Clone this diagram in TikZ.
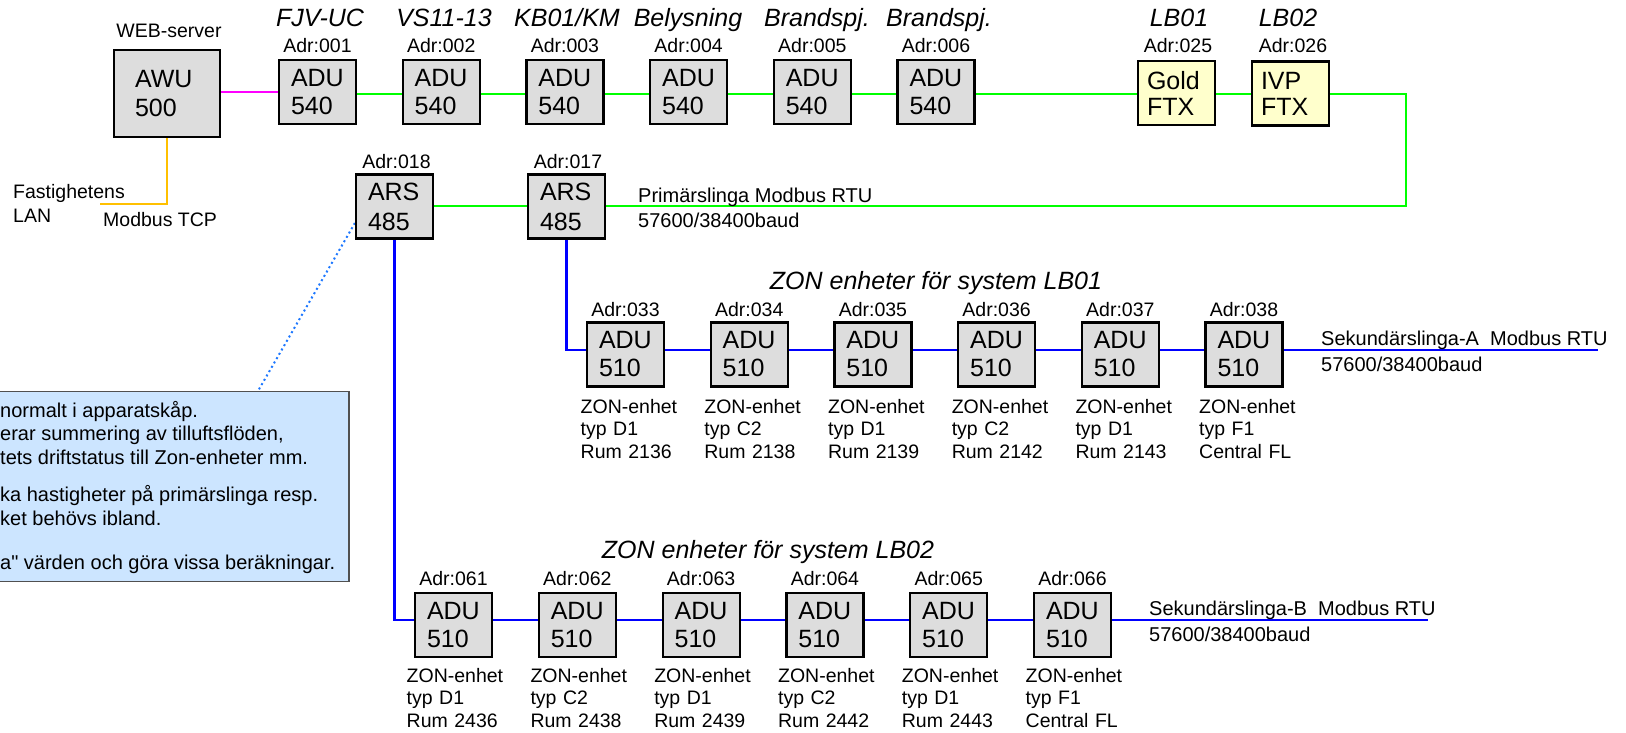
\documentclass[tikz,border=0pt]{standalone}
\usepackage{fontspec}
\setmainfont{Liberation Sans}
\newfontfamily\rawsans{Liberation Sans}
\usetikzlibrary{backgrounds}
\newcommand\myfs[2]{\fontsize{#1pt}{#2pt}\selectfont}
\definecolor{boxgray}{RGB}{221,221,221}
\definecolor{ftxyellow}{RGB}{255,255,204}
\definecolor{notebg}{RGB}{204,229,255}
\definecolor{lgreen}{RGB}{0,255,0}
\definecolor{lmag}{RGB}{255,0,255}
\definecolor{lorange}{RGB}{255,192,0}
\definecolor{lblue}{RGB}{0,0,255}
\definecolor{dotblue}{RGB}{30,120,255}
\definecolor{noteborder}{RGB}{80,80,80}
\begin{document}
\begin{tikzpicture}[x=1pt,y=-1pt,
  dev/.style={draw=black, line width=2.2pt, fill=boxgray, minimum height=64pt,
    text width=53pt, inner xsep=12pt, inner ysep=0pt, align=left, font=\myfs{25}{28}},
  adr/.style={anchor=base, inner sep=0pt, font=\myfs{19.5}{22}},
  ital/.style={anchor=base, inner sep=0pt, font=\myfs{25}{28}\itshape},
  zlab/.style={anchor=base west, align=left, text width=120pt, inner sep=0pt, font=\myfs{19.5}{22.5}},
  loop/.style={anchor=base west, inner sep=0pt, font=\myfs{20}{24}},
  notetxt/.style={anchor=base west, inner sep=0pt, font=\myfs{20}{23}},
  gline/.style={draw=lgreen, line width=2pt},
  bline/.style={draw=lblue, line width=2.5pt},
]
\useasboundingbox (0,0) rectangle (1626,733);

% ---- server ----
\node[dev, minimum height=87pt, text width=64pt, inner xsep=21pt, font=\myfs{25}{29}] (awu) at (167,93.5) {AWU\\500};
\node[adr] (web) at (169,38) {WEB-server};
\node[zlab, font=\myfs{19.5}{24}] (fast) at (13,199) {Fastighetens\\LAN};
\node[loop, font=\myfs{19.5}{24}] (mtcp) at (103,226) {Modbus TCP};

% ---- top row ----
\foreach \i/\ad in {1/001,2/002,3/003,4/004,5/005,6/006}{
  \pgfmathsetmacro\cx{317.5+123.7*(\i-1)}
  \node[dev] (a\i) at (\cx,92) {ADU\\540};
  \node[adr] (aadr\i) at (\cx,52.5) {Adr:\ad};
}
\node[ital] (n1) at (320,27) {FJV-UC};
\node[ital] (n2) at (444,27) {VS11-13};
\node[ital] (n3) at (567,27) {KB01/KM};
\node[ital] (n4) at (688,27) {Belysning};
\node[ital] (n5) at (817,27) {Brandspj.};
\node[ital] (n6) at (939,27) {Brandspj.};

\node[dev, fill=ftxyellow, text width=59pt, inner xsep=9pt, font=\myfs{25}{26}] (gold) at (1176.5,93) {Gold\\FTX};
\node[dev, fill=ftxyellow, text width=59pt, inner xsep=9pt, font=\myfs{25}{26}] (ivp) at (1290.5,93.5) {IVP\\FTX};
\node[adr] (adr25) at (1178,53) {Adr:025};
\node[adr] (adr26) at (1293,53) {Adr:026};
\node[ital] (lb1) at (1179,27) {LB01};
\node[ital] (lb2) at (1288,27) {LB02};

% ---- ARS ----
\node[dev, font=\myfs{25}{30}] (ars18) at (394.5,206.5) {ARS\\485};
\node[dev, font=\myfs{25}{30}] (ars17) at (566.5,206.5) {ARS\\485};
\node[adr] (adr18) at (396.5,168) {Adr:018};
\node[adr] (adr17) at (568,168) {Adr:017};
\node[loop] (prim1) at (638,202) {Primärslinga Modbus RTU};
\node[loop] (prim2) at (638,227) {57600/38400baud};

% ---- row 2 (LB01) ----
\node[ital] (zon1) at (936,289) {ZON enheter för system LB01};
\foreach \i/\ad/\typ/\rum in {1/033/D1/Rum 2136,2/034/C2/Rum 2138,3/035/D1/Rum 2139,4/036/C2/Rum 2142,5/037/D1/Rum 2143,6/038/F1/Central FL}{
  \pgfmathsetmacro\cx{625.5+123.7*(\i-1)}
  \node[dev] (b\i) at (\cx,354.5) {ADU\\510};
  \node[adr] (badr\i) at (\cx,316) {Adr:\ad};
  \node[zlab] (blab\i) at (\cx-45,413.3) {ZON-enhet\\typ \typ\\\rum};
}
\node[loop] (seka1) at (1321,345) {Sekundärslinga-A~ Modbus RTU};
\node[loop] (seka2) at (1321,371) {57600/38400baud};

% ---- row 3 (LB02) ----
\node[ital] (zon2) at (768,558) {ZON enheter för system LB02};
\foreach \i/\ad/\typ/\rum in {1/061/D1/Rum 2436,2/062/C2/Rum 2438,3/063/D1/Rum 2439,4/064/C2/Rum 2442,5/065/D1/Rum 2443,6/066/F1/Central FL}{
  \pgfmathsetmacro\cx{453.5+123.8*(\i-1)}
  \node[dev] (c\i) at (\cx,625) {ADU\\510};
  \node[adr] (cadr\i) at (\cx,585) {Adr:\ad};
  \node[zlab] (clab\i) at (\cx-47,682.3) {ZON-enhet\\typ \typ\\\rum};
}
\node[loop] (sekb1) at (1149,615) {Sekundärslinga-B~ Modbus RTU};
\node[loop] (sekb2) at (1149,641) {57600/38400baud};

% ---- note ----
\node[draw=noteborder, line width=1.5pt, fill=notebg, minimum width=369pt, minimum height=190pt, inner sep=0pt] (note) at (164.5,486.5) {};
\node[notetxt] (t1) at (0,417) {normalt i apparatskåp.};
\node[notetxt] (t2) at (0,440.7) {erar summering av tilluftsflöden,};
\node[notetxt] (t3) at (0,464) {tets driftstatus till Zon-enheter mm.};
\node[notetxt] (t4) at (0,501.7) {ka hastigheter på primärslinga resp.};
\node[notetxt] (t5) at (0,525) {ket behövs ibland.};
\node[notetxt, font=\rawsans\myfs{20}{23}] (t6) at (0,569) {a" värden och göra vissa beräkningar.};

% ---- connectors ----
\coordinate (g1) at (1406,94);
\coordinate (g2) at (1406,206);
\coordinate (endA) at (1598,350);
\coordinate (endB) at (1428,620);
\coordinate (lan) at (100,204);
\coordinate (nt) at (258,391);
\begin{scope}[on background layer]
  \draw[draw=lmag, line width=2pt] (awu.east |- 0,92) -- (a1.west |- 0,92);
  \draw[draw=lorange, line width=2.5pt] (awu.south) -- (awu.south |- lan) -- (lan);
  \foreach \i/\j in {1/2,2/3,3/4,4/5,5/6}
    \draw[gline] (a\i.east |- 0,94) -- (a\j.west |- 0,94);
  \draw[gline] (a6.east |- 0,94) -- (gold.west |- 0,94);
  \draw[gline] (gold.east |- 0,94) -- (ivp.west |- 0,94);
  \draw[gline] (ivp.east |- 0,94) -- (g1) -- (g2) -- (ars17.east |- g2);
  \draw[gline] (ars17.west |- g2) -- (ars18.east |- g2);
  % row 2
  \draw[bline] (ars17.south) -- (ars17.south |- endA) -- (b1.west |- endA);
  \foreach \i/\j in {1/2,2/3,3/4,4/5,5/6}
    \draw[bline] (b\i.east |- endA) -- (b\j.west |- endA);
  \draw[bline] (b6.east |- endA) -- (endA);
  % row 3
  \draw[bline] (ars18.south) -- (ars18.south |- endB) -- (c1.west |- endB);
  \foreach \i/\j in {1/2,2/3,3/4,4/5,5/6}
    \draw[bline] (c\i.east |- endB) -- (c\j.west |- endB);
  \draw[bline] (c6.east |- endB) -- (endB);
  % dotted
  \draw[draw=dotblue, line width=2pt, dash pattern=on 2pt off 3pt] (ars18.west |- 0,223) -- (nt);
\end{scope}
\end{tikzpicture}
\end{document}
